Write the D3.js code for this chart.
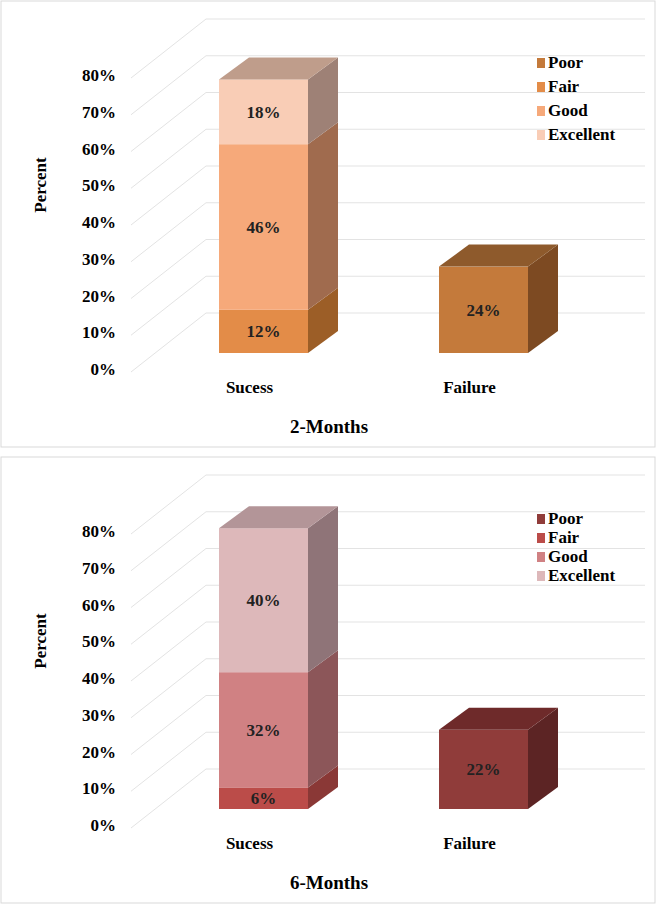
<!DOCTYPE html>
<html><head><meta charset="utf-8">
<script src="https://cdn.jsdelivr.net/npm/d3@7"></script>
<style>body{margin:0;background:#fff} text{font-family:"Liberation Serif","Times New Roman",Times,serif;font-weight:bold}</style>
</head><body>
<svg id="chart" width="656" height="906"></svg>
<script>
const categories = ["Sucess", "Failure"];
const grades = ["Poor", "Fair", "Good", "Excellent"];
const yTicks = [0, 10, 20, 30, 40, 50, 60, 70, 80];
// values per grade: [Sucess, Failure]
const twoMonths = { Poor: [0, 24], Fair: [12, 0], Good: [46, 0], Excellent: [18, 0] };
const sixMonths = { Poor: [0, 22], Fair: [6, 0], Good: [32, 0], Excellent: [40, 0] };

const svg = d3.select("#chart");

// front, side, top colours per grade
const pal2 = {
  Poor: ["#c47a3b", "#7d4a22", "#8e5a2c"],
  Fair: ["#e38c48", "#9c5e27", "#a86b36"],
  Good: ["#f6a97a", "#a06b4e", "#b07d60"],
  Excellent: ["#f9cdb6", "#9e8176", "#bf9d8b"]
};
const pal6 = {
  Poor: ["#903c3a", "#5c2424", "#6e2a2a"],
  Fair: ["#bb4c49", "#8a3836", "#983f3d"],
  Good: ["#d08183", "#8c5659", "#a06668"],
  Excellent: ["#ddb8ba", "#8f7478", "#b39598"]
};

function drawPanel(top, data, pal, title, legendStep) {
  const g = svg.append("g").attr("transform", `translate(0,${top})`);
  g.append("rect").attr("x", 1).attr("y", 1).attr("width", 654).attr("height", 446)
    .attr("fill", "#fff").attr("stroke", "#d9d9d9");

  const y = d3.scaleLinear().domain([0, 80]).range([353, 65]);
  const yLab = d3.scaleLinear().domain([0, 80]).range([369, 75]);
  const yBack = d3.scaleLinear().domain([0, 80]).range([313, 19]);
  const x = d3.scaleBand().domain(categories).range([219, 528]).paddingInner(131 / 220).paddingOuter(0);
  const dx = 30, dy = 22;

  yTicks.forEach(t => {
    g.append("line").attr("x1", 206).attr("x2", 645).attr("y1", yBack(t)).attr("y2", yBack(t))
      .attr("stroke", "#e3e3e3");
    g.append("line").attr("x1", 131).attr("x2", 206).attr("y1", yLab(t) + 3).attr("y2", yBack(t))
      .attr("stroke", "#e3e3e3");
    g.append("text").attr("x", 116).attr("y", yLab(t) + 6).attr("text-anchor", "end")
      .attr("font-size", 17).text(t + "%");
  });

  const stackOrder = ["Fair", "Good", "Excellent", "Poor"];
  categories.forEach((c, ci) => {
    let base = 0;
    const x0 = x(c), w = x.bandwidth();
    const segs = [];
    stackOrder.forEach(gr => {
      const v = data[gr][ci];
      if (!v) return;
      segs.push({ gr, v, b: base, t: base + v });
      base += v;
    });
    segs.forEach((s, i) => {
      const cols = pal[s.gr];
      const yb = y(s.b), yt = y(s.t);
      g.append("path").attr("fill", cols[1])
        .attr("d", `M${x0 + w},${yb} L${x0 + w + dx},${yb - dy} L${x0 + w + dx},${yt - dy} L${x0 + w},${yt}Z`);
      g.append("rect").attr("x", x0).attr("y", yt).attr("width", w).attr("height", yb - yt)
        .attr("fill", cols[0]);
      if (i === segs.length - 1) {
        g.append("path").attr("fill", cols[2])
          .attr("d", `M${x0},${yt} L${x0 + dx},${yt - dy} L${x0 + w + dx},${yt - dy} L${x0 + w},${yt}Z`);
      }
      g.append("text").attr("x", x0 + w / 2).attr("y", (yb + yt) / 2 + 6)
        .attr("text-anchor", "middle").attr("font-size", 17).attr("fill", "#222").text(s.v + "%");
    });
    g.append("text").attr("x", x0 + w / 2 - 14).attr("y", 393).attr("text-anchor", "middle")
      .attr("font-size", 17).text(c);
  });

  g.append("text").attr("transform", "translate(46,185) rotate(-90)").attr("text-anchor", "middle")
    .attr("font-size", 17).text("Percent");
  g.append("text").attr("x", 329).attr("y", 433).attr("text-anchor", "middle")
    .attr("font-size", 19).text(title);

  grades.forEach((gr, i) => {
    const ly = 68 + i * legendStep;
    g.append("rect").attr("x", 537).attr("y", ly - 10).attr("width", 8).attr("height", 10)
      .attr("fill", pal[gr][0]);
    g.append("text").attr("x", 548).attr("y", ly).attr("font-size", 17).text(gr);
  });
}

drawPanel(0, twoMonths, pal2, "2-Months", 24);
drawPanel(456, sixMonths, pal6, "6-Months", 19);
</script>
</body></html>
